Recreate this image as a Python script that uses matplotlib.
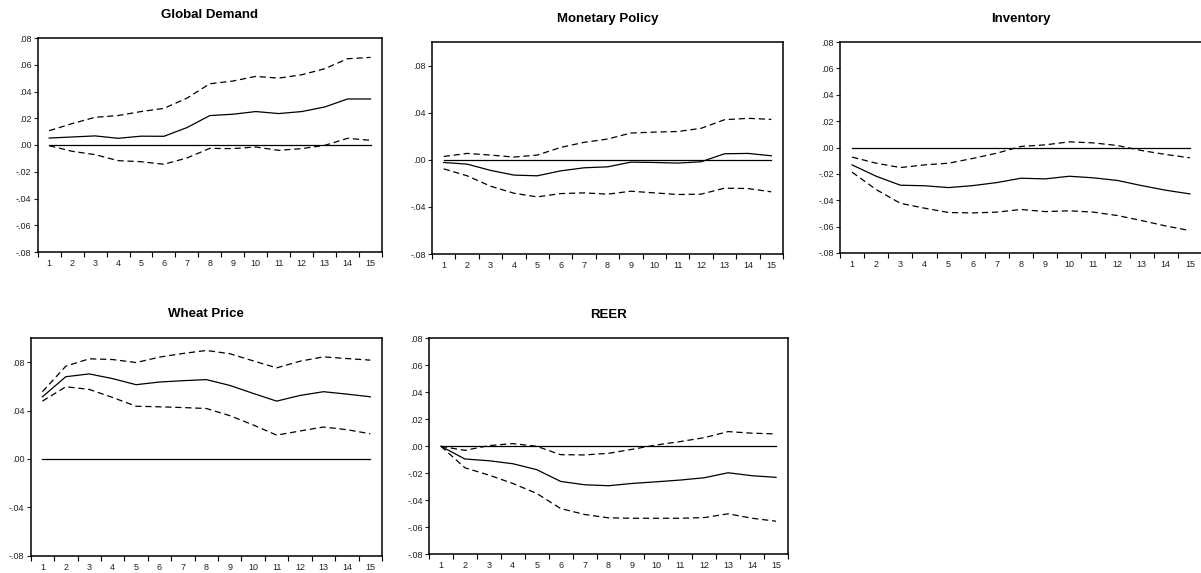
import numpy as np
import matplotlib
matplotlib.use("Agg")
import matplotlib.pyplot as plt
from matplotlib.ticker import FuncFormatter, MultipleLocator

# horizon (periods)
periods = list(range(1, 16))

# Global Demand
gd_resp = [0.0052, 0.0060, 0.0068, 0.0050, 0.0066, 0.0065, 0.0130, 0.0220, 0.0230, 0.0250,
           0.0235, 0.0250, 0.0284, 0.0344, 0.0344]
gd_up = [0.0107, 0.0160, 0.0207, 0.0220, 0.0250, 0.0274, 0.0350, 0.0458, 0.0478, 0.0513,
         0.0500, 0.0525, 0.0570, 0.0645, 0.0655]
gd_lo = [-0.0005, -0.0047, -0.0072, -0.0117, -0.0125, -0.0144, -0.0097, -0.0025, -0.0027, -0.0015,
         -0.0040, -0.0027, -0.0003, 0.0050, 0.0035]

# Monetary Policy
mp_resp = [-0.0023, -0.0037, -0.0090, -0.0130, -0.0136, -0.0094, -0.0068, -0.0060, -0.0020, -0.0023,
           -0.0028, -0.0017, 0.0051, 0.0054, 0.0034]
mp_up = [0.0028, 0.0054, 0.0040, 0.0023, 0.0040, 0.0105, 0.0148, 0.0176, 0.0227, 0.0235,
         0.0240, 0.0267, 0.0340, 0.0352, 0.0343]
mp_lo = [-0.0077, -0.0136, -0.0224, -0.0284, -0.0315, -0.0287, -0.0281, -0.0292, -0.0267, -0.0281,
         -0.0295, -0.0292, -0.0241, -0.0244, -0.0272]

# Inventory
inv_resp = [-0.0132, -0.0218, -0.0286, -0.0290, -0.0304, -0.0289, -0.0266, -0.0233, -0.0238, -0.0218,
            -0.0230, -0.0250, -0.0289, -0.0324, -0.0352]
inv_up = [-0.0073, -0.0119, -0.0152, -0.0132, -0.0119, -0.0083, -0.0043, 0.0008, 0.0020, 0.0043,
          0.0035, 0.0015, -0.0023, -0.0053, -0.0078]
inv_lo = [-0.0187, -0.0319, -0.0423, -0.0460, -0.0493, -0.0496, -0.0490, -0.0470, -0.0486, -0.0480,
          -0.0490, -0.0516, -0.0554, -0.0595, -0.0630]

# Wheat Price
wp_resp = [0.0514, 0.0680, 0.0703, 0.0664, 0.0614, 0.0636, 0.0647, 0.0656, 0.0608, 0.0542,
           0.0478, 0.0525, 0.0556, 0.0536, 0.0514]
wp_up = [0.0556, 0.0767, 0.0828, 0.0822, 0.0797, 0.0842, 0.0872, 0.0897, 0.0870, 0.0811,
         0.0753, 0.0808, 0.0844, 0.0830, 0.0817]
wp_lo = [0.0478, 0.0597, 0.0575, 0.0508, 0.0436, 0.0431, 0.0425, 0.0417, 0.0358, 0.0281,
         0.0197, 0.0231, 0.0264, 0.0242, 0.0208]

# REER
re_resp = [0.0, -0.0094, -0.0107, -0.0129, -0.0173, -0.0260, -0.0285, -0.0292, -0.0275, -0.0263,
           -0.0250, -0.0233, -0.0196, -0.0218, -0.0230]
re_up = [0.0, -0.0030, 0.0005, 0.0020, 0.0000, -0.0062, -0.0064, -0.0052, -0.0022, 0.0010,
         0.0035, 0.0064, 0.0109, 0.0097, 0.0092]
re_lo = [0.0, -0.0159, -0.0213, -0.0275, -0.0349, -0.0461, -0.0505, -0.0530, -0.0533, -0.0533,
         -0.0533, -0.0528, -0.0500, -0.0533, -0.0555]

titles = ["Global Demand", "Monetary Policy", "Inventory", "Wheat Price", "REER"]
responses = [gd_resp, mp_resp, inv_resp, wp_resp, re_resp]
uppers = [gd_up, mp_up, inv_up, wp_up, re_up]
lowers = [gd_lo, mp_lo, inv_lo, wp_lo, re_lo]
ylims = [(-0.08, 0.08), (-0.08, 0.10), (-0.08, 0.08), (-0.08, 0.10), (-0.08, 0.08)]
ysteps = [0.02, 0.04, 0.02, 0.04, 0.02]
title_pads = [14.5, 14.5, 14.5, 15, 14.5]

# axes rectangles in pixels (left, top, right, bottom)
W, H = 1201, 573
boxes_px = [(37.7, 38, 382, 252), (432, 42, 783, 254), (840, 42, 1202, 253),
            (30.7, 338, 382, 555.7), (429, 338.3, 788, 554.3)]

plt.rcParams['font.family'] = ['Liberation Sans', 'DejaVu Sans']


def fmt(v, pos):
    # EViews-style labels: .08, -.04, .00
    s = f"{v:.2f}"
    return s.replace("0.", ".", 1)


fig = plt.figure(figsize=(W / 100, H / 100), dpi=100)

for i in range(5):
    x0, y0, x1, y1 = boxes_px[i]
    ax = fig.add_axes([x0 / W, 1 - y1 / H, (x1 - x0) / W, (y1 - y0) / H])

    ax.plot(periods, [0] * len(periods), color='black', lw=0.9)
    ax.plot(periods, responses[i], color='black', lw=0.9)
    ax.plot(periods, uppers[i], color='black', lw=0.9, ls=(0, (5, 3)))
    ax.plot(periods, lowers[i], color='black', lw=0.9, ls=(0, (5, 3)))

    ax.set_xlim(0.5, 15.5)
    ax.set_ylim(*ylims[i])
    ax.set_xticks(periods)
    ax.set_xticks(np.arange(0.5, 16, 1), minor=True)
    ax.yaxis.set_major_locator(MultipleLocator(ysteps[i]))
    ax.yaxis.set_major_formatter(FuncFormatter(fmt))
    ax.tick_params(axis='x', which='major', length=0, pad=5, labelsize=6.5, colors='#222222')
    ax.tick_params(axis='x', which='minor', length=3.5, width=0.8, direction='out')
    ax.tick_params(axis='y', length=3, width=0.8, direction='out', pad=1.5, labelsize=6.5,
                   colors='#222222')

    for sp in ax.spines.values():
        sp.set_linewidth(1.1)
        sp.set_color('black')

    ax.set_title(titles[i], fontsize=9.5, fontweight='bold', pad=title_pads[i])

fig.savefig('out.png', dpi=100)
